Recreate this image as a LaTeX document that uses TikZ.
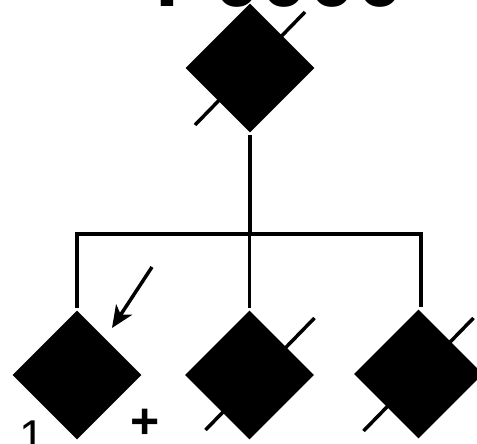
\documentclass[tikz,border=0pt]{standalone}
\usepackage{fontspec}
\setmainfont{Liberation Sans}
\usetikzlibrary{arrows.meta,shapes.geometric}

\begin{document}
\begin{tikzpicture}[x=1pt,y=-1pt,line width=3.5pt,
  person/.style={shape=diamond,fill=black,inner sep=0pt,minimum size=130pt},
  slash/.style={line width=3.5pt}]
\useasboundingbox (0,0) rectangle (477,444);
\clip (0,0) rectangle (477,444);
% title, cut at the top edge
\node[anchor=base west,inner sep=0pt,font=\fontsize{86}{86}\selectfont\bfseries] (title) at (154,7) {P0000};
% people
\node[person] (p) at (250,68) {};
\node[person] (c1) at (77,375) {};
\node[person] (c2) at (249.5,375) {};
\node[person] (c3) at (418.5,374) {};
\draw[slash]([shift={(-55,57)}]p.center)--([shift={(55,-56)}]p.center);
\draw[slash]([shift={(-44,55)}]c2.center)--([shift={(65,-57)}]c2.center);
\draw[slash]([shift={(-55,57)}]c3.center)--([shift={(55,-56)}]c3.center);
% lines of descent
\coordinate (jl) at (76,234);
\coordinate (jr) at (421,234);
\draw (p.south)--(p.south|-jl);
\draw (c1.north)|-(jr)--(jr|-c3.north);
\draw (c2.north|-jl)--(c2.north);
% proband arrow
\coordinate (a) at (152,267);
\draw[-{Stealth[length=22pt,width=19pt,inset=6pt]},line width=3.5pt](a)--(112,328);
\node[anchor=base west,inner sep=0pt,font=\fontsize{46}{46}\selectfont] (n1) at (18,452) {1};
\node[inner sep=0pt,font=\fontsize{50}{50}\selectfont\bfseries] (plus) at (145,424) {+};
\end{tikzpicture}
\end{document}
